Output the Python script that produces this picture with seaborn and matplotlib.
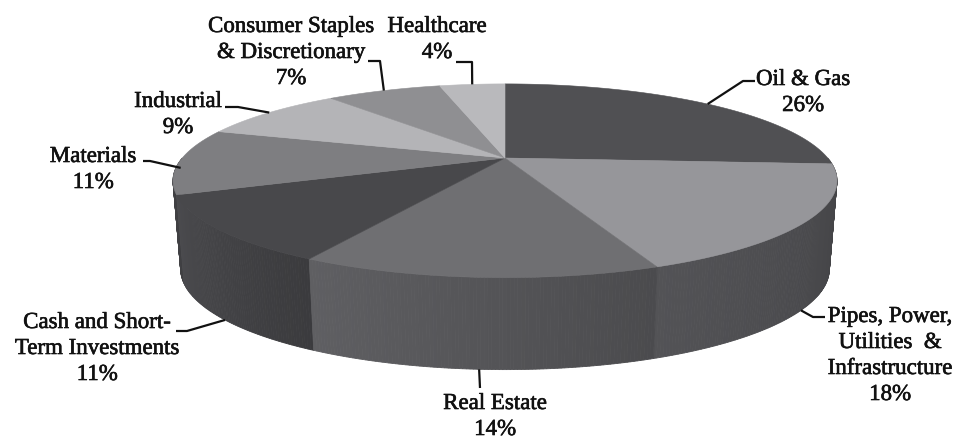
import numpy as np
import matplotlib.pyplot as plt
import matplotlib.patheffects as pe
import seaborn as sns

# Portfolio breakdown by sector (clockwise from 12 o'clock)
sectors = ["Oil & Gas",
           "Pipes, Power,\nUtilities  &\nInfrastructure",
           "Real Estate",
           "Cash and Short-\nTerm Investments",
           "Materials",
           "Industrial",
           "Consumer Staples\n& Discretionary",
           "Healthcare"]
shares = [26, 18, 14, 11, 11, 9, 7, 4]

top_colors = ["#505053", "#96969a", "#6f6f72", "#48484b",
              "#7e7e81", "#b4b4b7", "#8f8f92", "#b9b9bc"]
wall_colors = ["#4a4a4d", "#4a4a4d", "#555558", "#434346",
               "#48484b", "#6a6a6d", "#5a5a5d", "#6e6e71"]

sns.set_theme(style="white")
plt.rcParams["font.family"] = ["Liberation Serif", "DejaVu Serif"]

# pie geometry in pixel units (perspective tilted disc)
CX, CY = 505, 158
R, A, K = 322.7, 91.5, 0.235
SHRINK = 0.023


def rim(theta, depth=0.0):
    t = np.radians(theta)
    s = 1.0 / (1.0 + K * np.sin(t))
    x = CX + R * np.cos(t) * s
    y = CY - A * np.sin(t) * s
    x = CX + (x - CX) * (1 - SHRINK * depth)
    y = y + depth * (87 - 5 * np.sin(t))
    return x, y


fig = plt.figure(figsize=(9.58, 4.4), dpi=100)
ax = fig.add_axes([0, 0, 1, 1])
ax.set_xlim(0, 958)
ax.set_ylim(440, 0)
ax.axis("off")

bounds = 90 - 3.6 * np.concatenate([[0], np.cumsum(shares)])

# side walls (front half), painted back to front
quads = []
for i in range(len(shares)):
    hi, lo = bounds[i], bounds[i + 1]
    a0, a1 = max(lo, -180), min(hi, 0)
    if a1 <= a0:
        continue
    steps = np.linspace(a1, a0, max(2, int((a1 - a0) * 2)))
    base = np.array(plt.matplotlib.colors.to_rgb(wall_colors[i]))
    for a, b in zip(steps[:-1], steps[1:]):
        frac = ((hi - (a + b) / 2) / (hi - lo))
        fac = 0.88 + 0.24 * frac
        col = np.clip(base * fac, 0, 1)
        xt, yt = rim(np.array([a, b]))
        xb, yb = rim(np.array([b, a]), 1.0)
        quads.append((np.sin(np.radians((a + b) / 2)),
                      np.r_[xt, xb], np.r_[yt, yb], col))
quads.sort(key=lambda q: -q[0])
for _, xs, ys, col in quads:
    ax.fill(xs, ys, color=col, lw=0.6, ec=col)

# top face
for i in range(len(shares)):
    th = np.linspace(bounds[i], bounds[i + 1], 120)
    x, y = rim(th)
    ax.fill(np.r_[CX, x], np.r_[CY, y], color=top_colors[i],
            ec=top_colors[i], lw=0.4)

# labels and leader lines
label_x = [803, 890, 495, 97, 93, 178, 291, 437]
label_y = [85, 322, 409, 328, 162, 107, 32, 32]
line_gap = 26
anchor_depth = [0, 1, 1, 1, 0.08, 0, 0, 0]
elbows = [(743, 81), (813, 317), (480, 388), (187, 331),
          (150, 161), (238, 107), (380, 61), (472, 62)]
ends = [(755, 81), (825, 317), (480, 388), (176, 331),
        (143, 161), (225, 107), (368, 61), (456, 62)]

heavy = [pe.withStroke(linewidth=0.45, foreground="#111111")]
for i, name in enumerate(sectors):
    mid = (bounds[i] + bounds[i + 1]) / 2
    ax_, ay_ = rim(mid, anchor_depth[i])
    ax.plot([ax_, elbows[i][0], ends[i][0]],
            [ay_, elbows[i][1], ends[i][1]],
            color="#111111", lw=1.6, solid_capstyle="butt")
    lines = name.split("\n") + [f"{shares[i]}%"]
    for j, ln in enumerate(lines):
        ax.text(label_x[i], label_y[i] + j * line_gap, ln,
                ha="center", va="baseline", fontsize=16.5,
                color="#111111", path_effects=heavy)

fig.savefig("out.png", dpi=100)
